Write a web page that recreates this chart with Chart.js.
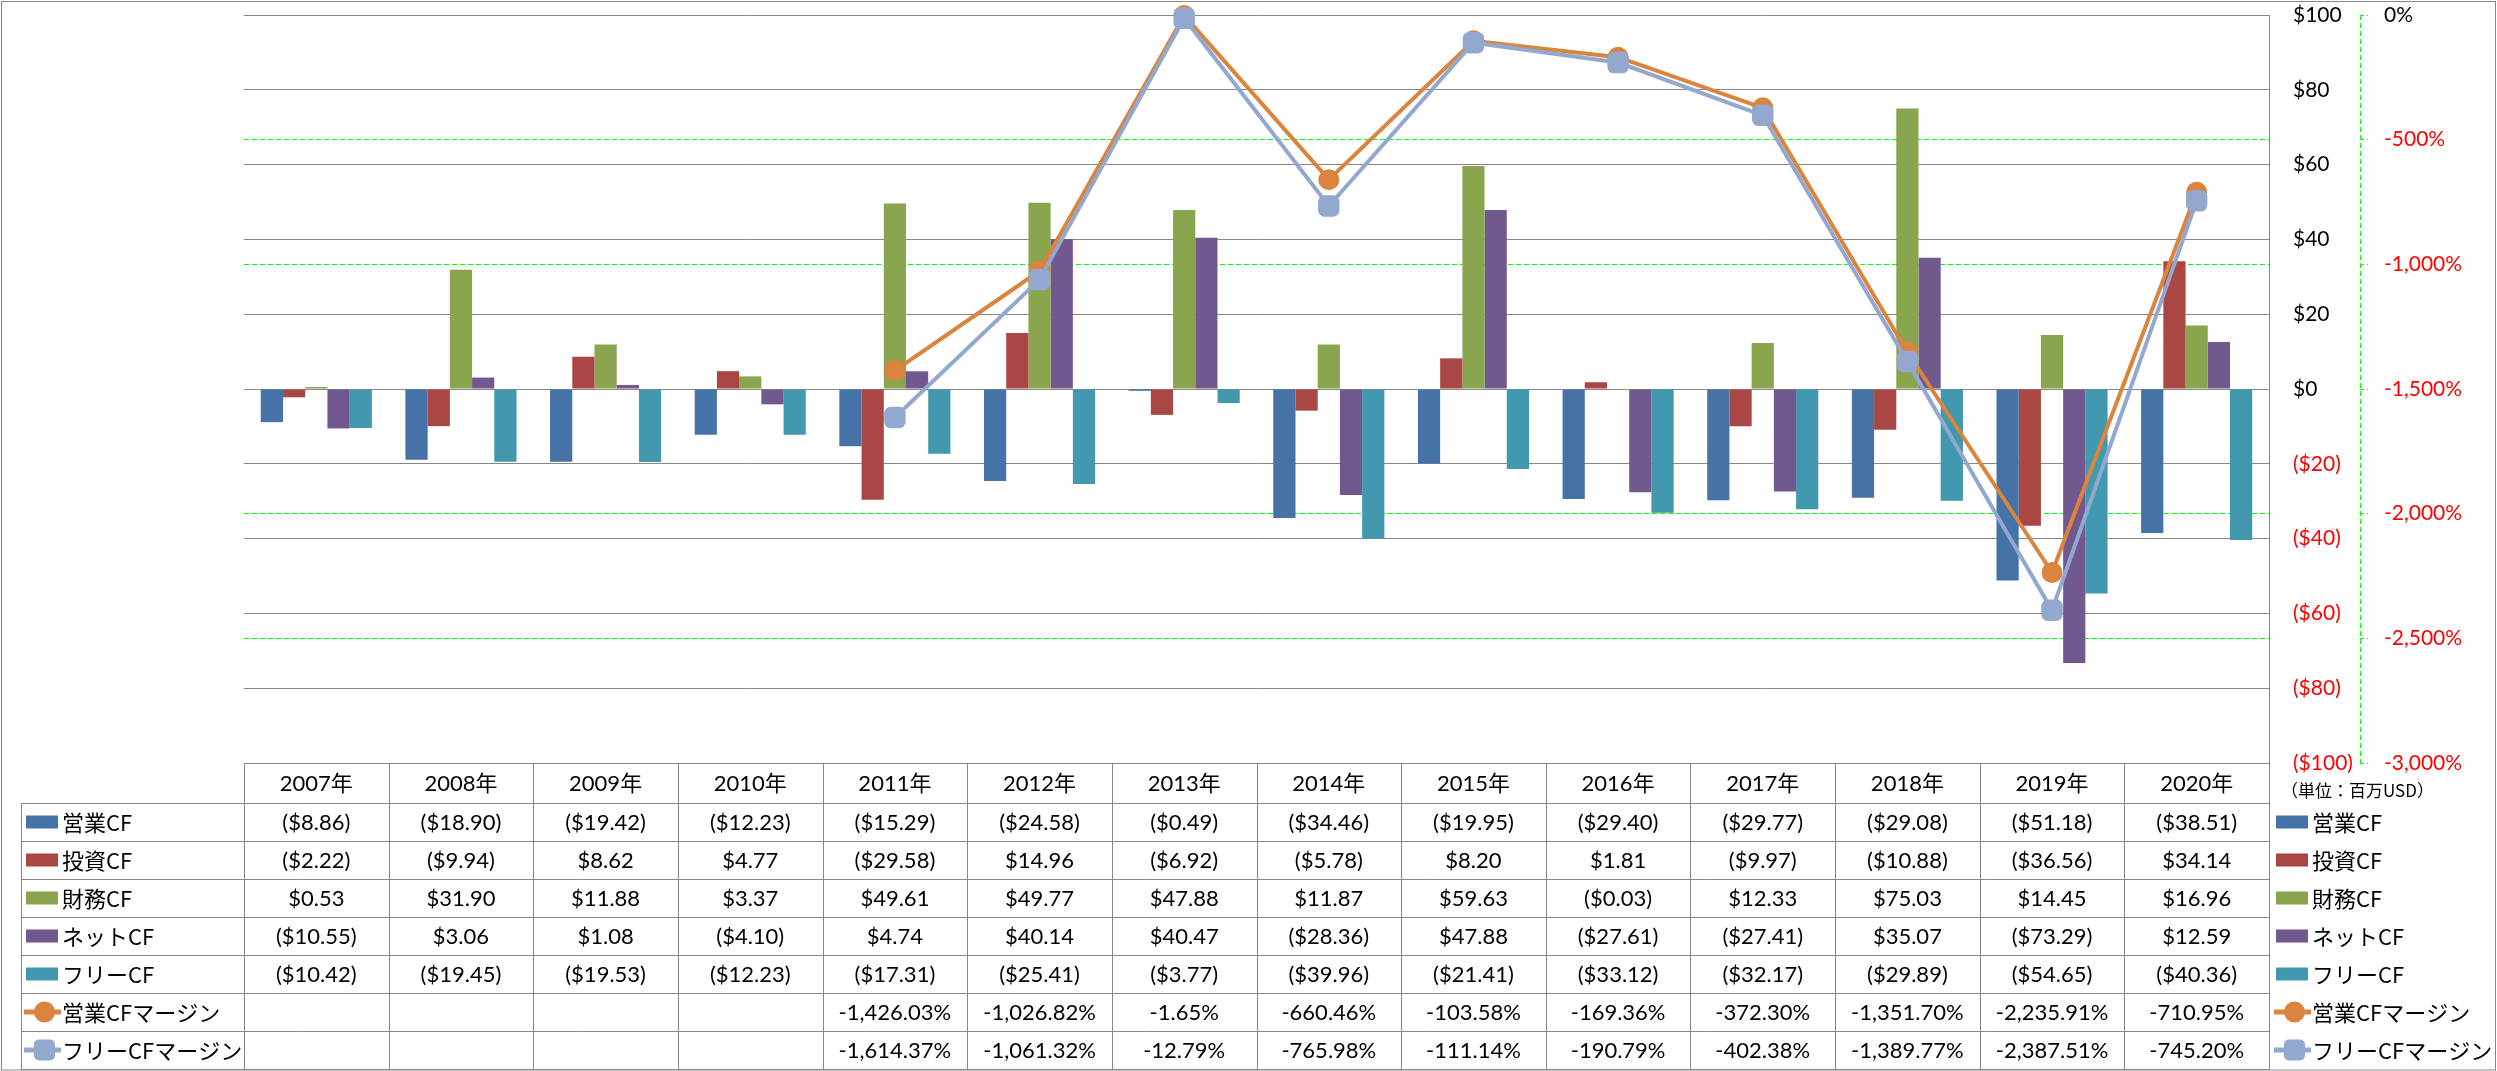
<!DOCTYPE html>
<html>
<head>
<meta charset="utf-8">
<script src="https://cdn.jsdelivr.net/npm/chart.js@4/dist/chart.umd.min.js"></script>
<style>
  html, body { margin: 0; padding: 0; background: #fff; }
  #wrap { width: 2497px; height: 1071px; }
</style>
</head>
<body>
<div id="wrap"><canvas id="c" width="2497" height="1071"></canvas></div>
<script>
// ---- data ----
const categories = ['2007年','2008年','2009年','2010年','2011年','2012年','2013年','2014年','2015年','2016年','2017年','2018年','2019年','2020年'];
const opCF   = [-8.86, -18.90, -19.42, -12.23, -15.29, -24.58, -0.49, -34.46, -19.95, -29.40, -29.77, -29.08, -51.18, -38.51];
const invCF  = [-2.22, -9.94, 8.62, 4.77, -29.58, 14.96, -6.92, -5.78, 8.20, 1.81, -9.97, -10.88, -36.56, 34.14];
const finCF  = [0.53, 31.90, 11.88, 3.37, 49.61, 49.77, 47.88, 11.87, 59.63, -0.03, 12.33, 75.03, 14.45, 16.96];
const netCF  = [-10.55, 3.06, 1.08, -4.10, 4.74, 40.14, 40.47, -28.36, 47.88, -27.61, -27.41, 35.07, -73.29, 12.59];
const freeCF = [-10.42, -19.45, -19.53, -12.23, -17.31, -25.41, -3.77, -39.96, -21.41, -33.12, -32.17, -29.89, -54.65, -40.36];
const opMargin   = [null, null, null, null, -1426.03, -1026.82, -1.65, -660.46, -103.58, -169.36, -372.30, -1351.70, -2235.91, -710.95];
const freeMargin = [null, null, null, null, -1614.37, -1061.32, -12.79, -765.98, -111.14, -190.79, -402.38, -1389.77, -2387.51, -745.20];
const seriesNames = ['営業CF','投資CF','財務CF','ネットCF','フリーCF','営業CFマージン','フリーCFマージン'];
const dollarTicks = { min: -100, max: 100, step: 20 };
const pctTicks = { min: -3000, max: 0, step: 500 };
const unitLabel = '（単位：百万USD）';

// ---- styles ----
const colors = ['#4572A7', '#AA4643', '#89A54E', '#71588F', '#4198AF', '#DB843D', '#92A8CE'];
const LAT = "Lato, 'Noto Sans CJK JP', sans-serif";
const JP = "'Noto Sans CJK JP', sans-serif";
const GRID = '#878787';
const GREEN = '#00FF00';

function fmtMoney(v) {
  if (v === null || v === undefined) return '';
  const a = Math.abs(v).toFixed(2);
  return v < 0 ? '($' + a + ')' : '$' + a;
}
function fmtPct(v) {
  if (v === null || v === undefined) return '';
  return v.toLocaleString('en-US', { minimumFractionDigits: 2, maximumFractionDigits: 2 }) + '%';
}

const barSeries = [opCF, invCF, finCF, netCF, freeCF];

const datasets = [];
barSeries.forEach((d, i) => {
  datasets.push({
    type: 'bar', label: seriesNames[i], data: d, yAxisID: 'y',
    backgroundColor: colors[i], borderWidth: 0, order: 2 + i,
    barPercentage: 1.0, categoryPercentage: 0.768
  });
});
datasets.push({
  type: 'line', label: seriesNames[5], data: opMargin, yAxisID: 'y1',
  borderColor: colors[5], backgroundColor: colors[5], borderWidth: 4,
  pointStyle: 'circle', pointRadius: 10.5, pointHoverRadius: 10.5, pointBorderWidth: 0,
  tension: 0, order: 1, clip: false
});
datasets.push({
  type: 'line', label: seriesNames[6], data: freeMargin, yAxisID: 'y1',
  borderColor: colors[6], backgroundColor: colors[6], borderWidth: 4,
  pointStyle: 'rectRounded', pointRadius: 12.5, pointHoverRadius: 12.5, pointBorderWidth: 0,
  tension: 0, order: 0, clip: false
});

const HEAD_H = 40, ROW_H = 38;

function hline(ctx, x1, x2, y) { ctx.beginPath(); ctx.moveTo(x1, Math.round(y) + 0.5); ctx.lineTo(x2, Math.round(y) + 0.5); ctx.stroke(); }
function vline(ctx, x, y1, y2) { ctx.beginPath(); ctx.moveTo(Math.round(x) + 0.5, y1); ctx.lineTo(Math.round(x) + 0.5, y2); ctx.stroke(); }

function drawLegendMark(ctx, i, x0, cy) {
  ctx.save();
  if (i < 5) {
    ctx.fillStyle = colors[i];
    ctx.fillRect(x0 + 5, cy - 6.5, 32, 13);
  } else {
    ctx.strokeStyle = colors[i];
    ctx.lineWidth = 5;
    ctx.beginPath(); ctx.moveTo(x0 + 3, cy); ctx.lineTo(x0 + 40, cy); ctx.stroke();
    ctx.fillStyle = colors[i];
    if (i === 5) {
      ctx.beginPath(); ctx.arc(x0 + 23.5, cy, 10.5, 0, Math.PI * 2); ctx.fill();
    } else {
      ctx.beginPath(); ctx.roundRect(x0 + 13, cy - 10.5, 21, 21, 5); ctx.fill();
    }
  }
  ctx.restore();
}

const bgPlugin = {
  id: 'bg',
  beforeDraw(chart) {
    const ctx = chart.ctx;
    ctx.save(); ctx.fillStyle = '#fff'; ctx.fillRect(0, 0, chart.width, chart.height); ctx.restore();
  }
};

const tablePlugin = {
  id: 'dataTable',
  afterDraw(chart) {
    const ctx = chart.ctx;
    const ca = chart.chartArea;
    const xs = chart.scales.x;
    const y1 = chart.scales.y1;
    const n = categories.length;
    const colW = xs.getPixelForValue(1) - xs.getPixelForValue(0);
    const top = ca.bottom;
    const rowsData = [opCF, invCF, finCF, netCF, freeCF, opMargin, freeMargin];
    const bottom = top + HEAD_H + rowsData.length * ROW_H;
    const legL = 21;

    ctx.save();
    // dashed green y1 axis line
    ctx.strokeStyle = GREEN; ctx.lineWidth = 1; ctx.setLineDash([5, 3]);
    vline(ctx, y1.left, ca.top, ca.bottom);
    ctx.setLineDash([]);

    // table grid
    ctx.strokeStyle = GRID; ctx.lineWidth = 1;
    hline(ctx, ca.left, ca.right + 1, top);
    for (let r = 0; r <= rowsData.length; r++) {
      hline(ctx, legL, ca.right + 1, top + HEAD_H + r * ROW_H);
    }
    vline(ctx, legL, top + HEAD_H, bottom + 1);
    for (let c = 0; c <= n; c++) {
      const x = c < n ? xs.getPixelForValue(c) - colW / 2 : xs.getPixelForValue(n - 1) + colW / 2;
      vline(ctx, x, top, bottom + 1);
    }

    // header text
    ctx.fillStyle = '#000';
    ctx.textAlign = 'center'; ctx.textBaseline = 'middle';
    ctx.font = '22px ' + LAT;
    categories.forEach((c, i) => ctx.fillText(c, xs.getPixelForValue(i), top + HEAD_H / 2 + 1));

    // values
    rowsData.forEach((arr, r) => {
      const cy = top + HEAD_H + r * ROW_H + ROW_H / 2 + 1;
      arr.forEach((v, i) => {
        const s = r < 5 ? fmtMoney(v) : fmtPct(v);
        ctx.fillText(s, xs.getPixelForValue(i), cy);
      });
    });

    // legends (left in table, right outside)
    ctx.textAlign = 'left';
    ctx.font = '22px ' + JP;
    const rightX0 = ca.right + 2;
    rowsData.forEach((arr, r) => {
      const cy = top + HEAD_H + r * ROW_H + ROW_H / 2;
      drawLegendMark(ctx, r, legL, cy);
      drawLegendMark(ctx, r, rightX0, cy);
      ctx.fillStyle = '#000';
      ctx.fillText(seriesNames[r], legL + 41, cy + 1);
      ctx.fillText(seriesNames[r], rightX0 + 41, cy + 1);
    });

    // unit label
    ctx.font = '17px ' + JP;
    ctx.fillText(unitLabel, ca.right + 12, top + 28);

    // outer border
    ctx.strokeStyle = GRID; ctx.lineWidth = 1;
    ctx.strokeRect(1.5, 1.5, chart.width - 3, chart.height - 2.5);
    ctx.restore();
  }
};

function fixY(width) {
  return s => { s.width = width; s.paddingTop = 0; s.paddingBottom = 0; };
}

new Chart(document.getElementById('c'), {
  data: { labels: categories, datasets },
  options: {
    responsive: false,
    devicePixelRatio: 1,
    animation: false,
    layout: { padding: { left: 244, top: 15, right: 0, bottom: 1071 - 763 } },
    plugins: { legend: { display: false }, tooltip: { enabled: false } },
    scales: {
      x: { display: false, offset: true },
      y: {
        position: 'right', weight: 1,
        min: dollarTicks.min, max: dollarTicks.max,
        afterFit: fixY(91),
        ticks: {
          stepSize: dollarTicks.step, padding: 24,
          font: { family: LAT, size: 21 },
          color: c => (c.tick && c.tick.value < 0) ? '#FF0000' : '#000000',
          callback: v => v < 0 ? '($' + (-v) + ')' : '$' + v
        },
        grid: { color: GRID, lineWidth: 1, drawTicks: false },
        border: { display: true, color: GRID, width: 1 }
      },
      y1: {
        position: 'right', weight: 2,
        min: pctTicks.min, max: pctTicks.max,
        afterFit: fixY(137),
        ticks: {
          stepSize: pctTicks.step, padding: 16,
          font: { family: LAT, size: 21 },
          color: c => (c.tick && c.tick.value < 0) ? '#FF0000' : '#000000',
          callback: v => v.toLocaleString('en-US') + '%'
        },
        grid: {
          color: c => (c.tick && (c.tick.value === 0 || c.tick.value === -1500 || c.tick.value === -3000)) ? 'rgba(0,0,0,0)' : GREEN,
          lineWidth: 1, drawTicks: true, tickLength: 8,
          tickColor: GREEN, tickWidth: 1, tickBorderDash: [4, 3]
        },
        border: { display: false, dash: [5, 3] }
      }
    }
  },
  plugins: [bgPlugin, tablePlugin]
});
</script>
</body>
</html>
